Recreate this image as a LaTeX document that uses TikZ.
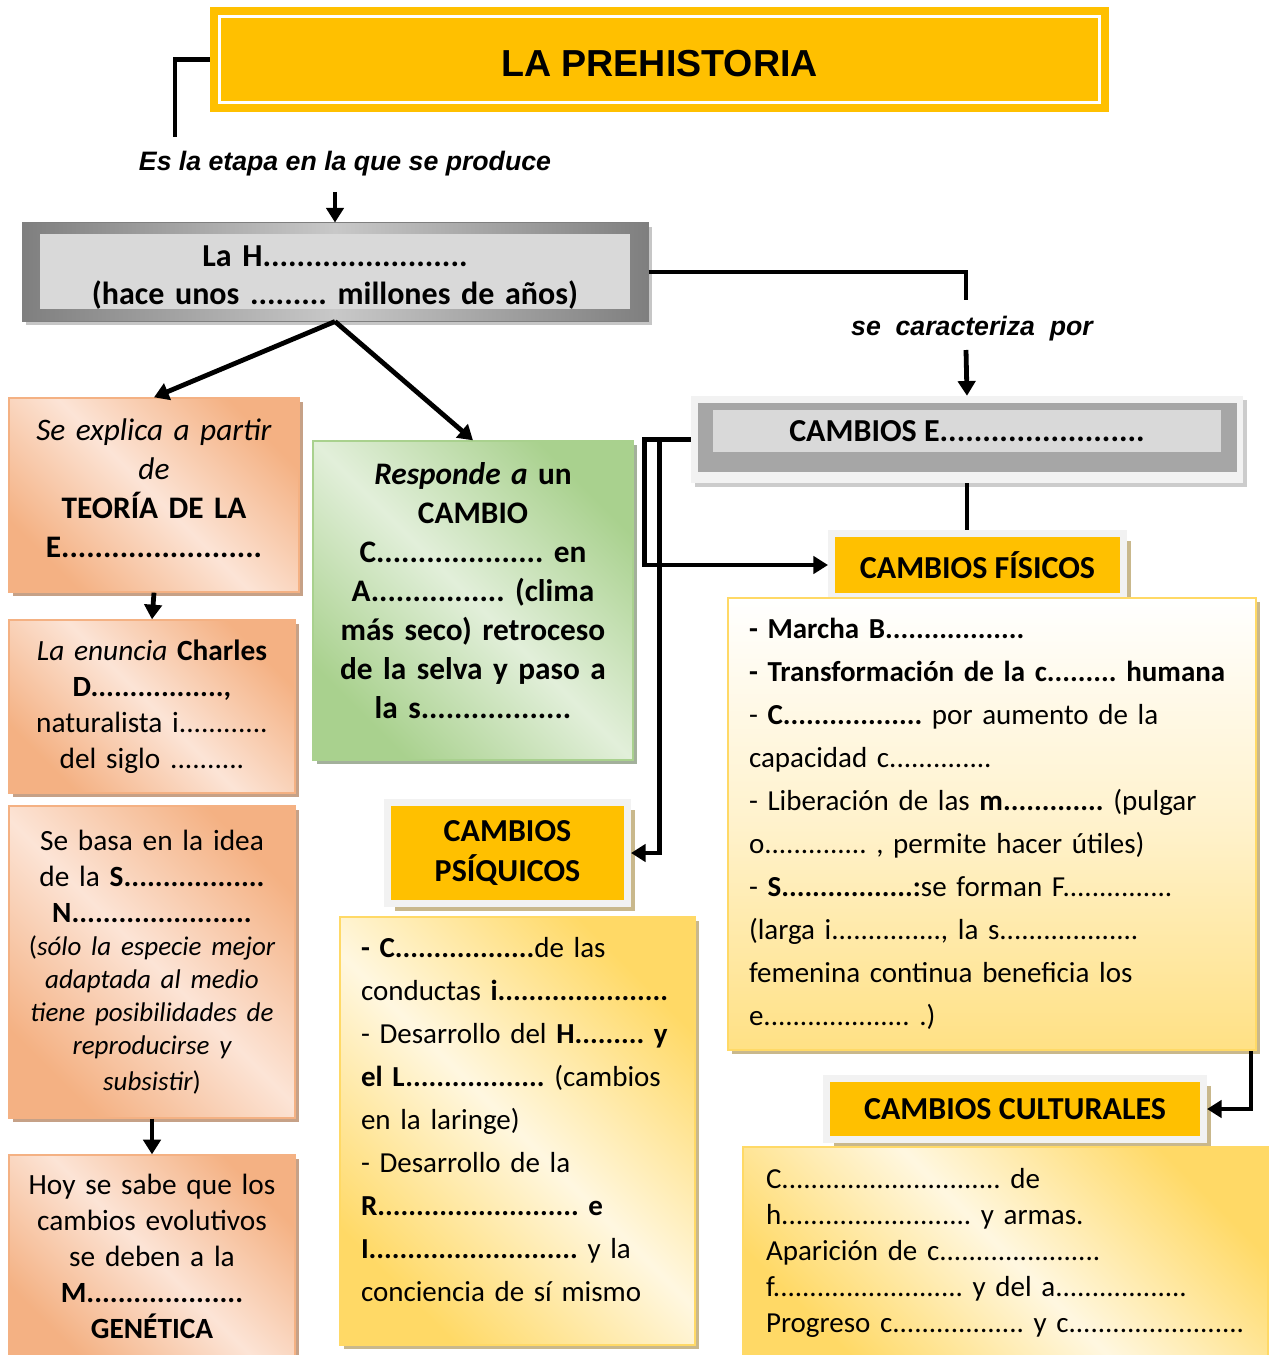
\documentclass[tikz,border=0pt]{standalone}
\usepackage{fontspec}
\setmainfont{Carlito}
\newfontfamily\arialfont{Liberation Sans}
\usetikzlibrary{arrows.meta,calc,shadows}

\definecolor{titleyellow}{HTML}{FFC000}
\definecolor{boxgray}{HTML}{D9D9D9}
\definecolor{framegray}{HTML}{F2F2F2}
\definecolor{midgray}{HTML}{A6A6A6}
\definecolor{edgegray}{HTML}{7F7F7F}
\definecolor{lightedge}{HTML}{C8C8C8}
\definecolor{salmondark}{HTML}{F4B183}
\definecolor{salmonlight}{HTML}{FCE4D6}
\definecolor{salmonshadow}{HTML}{C6A187}
\definecolor{greendark}{HTML}{A9D18E}
\definecolor{greenlight}{HTML}{E2EFDA}
\definecolor{greenshadow}{HTML}{A3B09B}
\definecolor{creamdark}{HTML}{FFD966}
\definecolor{creamlight}{HTML}{FFF2CC}
\definecolor{tanshadow}{HTML}{C9B88C}

\frenchspacing
\newcommand{\jline}[1]{\makebox[364.5pt][s]{#1}}

\begin{document}
\begin{tikzpicture}[x=0.75pt,y=-0.75pt,
  conn/.style={line width=3.6pt},
  arr/.style={conn,-{Triangle[length=11pt,width=13pt]}},
  salmonbox/.style={draw=salmondark, line width=1pt, top color=salmondark, bottom color=salmondark, middle color=salmonlight, shading angle=-45, inner sep=0pt, align=center, drop shadow={shadow xshift=3pt, shadow yshift=-3pt, fill=salmonshadow, opacity=1}},
  greenbox/.style={draw=greendark, line width=1pt, top color=greendark, bottom color=greendark, middle color=greenlight, shading angle=-45, inner sep=0pt, drop shadow={shadow xshift=3pt, shadow yshift=-3pt, fill=greenshadow, opacity=1}},
  creambox/.style={draw=creamdark, line width=1.5pt, top color=creamdark, bottom color=creamdark, middle color=creamlight!60!white, shading angle=-45, inner ysep=0pt, align=left, drop shadow={shadow xshift=3pt, shadow yshift=-3pt, fill=tanshadow, opacity=1}},
  header/.style={fill=titleyellow, draw=framegray, line width=5.25pt, inner sep=0pt, align=center, font=\fontsize{24}{30}\selectfont\bfseries, drop shadow={shadow xshift=5.5pt, shadow yshift=-5.5pt, fill=tanshadow, opacity=1}},
  linktext/.style={font=\arialfont\bfseries\itshape\fontsize{20}{24}\selectfont}]
\useasboundingbox (0,0) rectangle (1268,1355);

%Title
\node[fill=titleyellow, minimum width=674.25pt, minimum height=78.75pt, inner sep=0pt, text height=25.5pt, font=\arialfont\bfseries\fontsize{28.2}{33}\selectfont] (title) at (659.5,59.5) {LA PREHISTORIA};
\draw[white, line width=2.25pt] ($(title.north west)+(10,10)$) rectangle ($(title.south east)+(-10,-10)$);

\coordinate (etapaTop) at (175,137);
\draw[conn] (title.west) -| (etapaTop);
\node[linktext] (etapa) at (345,164) {Es la etapa en la que se produce};

%La H...
\node[draw=edgegray, line width=0.75pt, left color=edgegray, right color=edgegray, middle color=lightedge, minimum width=469.5pt, minimum height=73.5pt, inner sep=0pt, drop shadow={shadow xshift=3pt, shadow yshift=-3pt, fill=gray!45, opacity=1}, path picture={\fill[boxgray] ([xshift=13.5pt,yshift=-8.25pt]path picture bounding box.north west) rectangle ([xshift=-13.5pt,yshift=9pt]path picture bounding box.south east);}] (hbox) at (335,272) {};
\node[text width=440pt, align=center, inner sep=0pt, font=\fontsize{24}{28.5}\selectfont\bfseries] (hboxText) at (335,278) {La H........................\\(hace unos ......... millones de años)};
\draw[arr] (335,192) -- (hbox.north);

%se caracteriza por
\draw[conn] (hbox.east) -| (966,300);
\node[linktext] (carac) at (972,329) {se\ \ caracteriza\ \ por};

%Cambios E...
\node[fill=framegray, minimum width=414pt, minimum height=65.25pt, inner sep=0pt, drop shadow={shadow xshift=3pt, shadow yshift=-3pt, fill=gray!40, opacity=1}, path picture={\fill[midgray] ([xshift=5.25pt,yshift=-5.25pt]path picture bounding box.north west) rectangle ([xshift=-4.5pt,yshift=8.25pt]path picture bounding box.south east);}] (cambiosEframe) at (967,439.5) {};
\node[fill=boxgray, minimum width=381pt, minimum height=31.5pt, inner sep=0pt, font=\fontsize{24}{29.25}\selectfont\bfseries] (cambiosE) at (967,431) {CAMBIOS E........................};
\draw[arr] (966,350) -- (cambiosEframe.north);

%Left column
\node[salmonbox, minimum width=217.5pt, minimum height=145.5pt] (lb1) at (154,495) {};
\node[text width=202.5pt, align=center, inner sep=0pt, font=\fontsize{23.5}{29.25}\selectfont] (lb1Text) at (154,488) {\textit{Se explica a partir}\\\textit{de}\\\textbf{TEORÍA DE LA}\\\textbf{E........................}};
\node[salmonbox, minimum width=214.5pt, minimum height=129.75pt, text width=202.5pt, font=\fontsize{22}{27}\selectfont] (lb2) at (152,706.5) {\textit{La enuncia} \textbf{Charles}\\\textbf{D.................,}\\naturalista i............\\del siglo ..........};
\node[salmonbox, minimum width=214.5pt, minimum height=234pt, text width=204pt, font=\fontsize{22}{27}\selectfont] (lb3) at (152,962) {Se basa en la idea\\de la \textbf{S..................}\\\textbf{N.......................}\\{\fontsize{20.25}{24.75}\selectfont (\itshape sólo la especie mejor\\adaptada al medio\\tiene posibilidades de\\reproducirse y\\subsistir\upshape)}};
\node[salmonbox, minimum width=214.5pt, minimum height=152.25pt, text width=202.5pt, font=\fontsize{22}{27}\selectfont] (lb4) at (152,1256.5) {Hoy se sabe que los\\cambios evolutivos\\se deben a la\\\textbf{M....................}\\\textbf{GENÉTICA}};
\draw[arr] (hbox.south) -- (lb1.north);
\draw[arr] (lb1.south) -- (lb2.north);
\draw[arr] (lb3.south) -- (lb4.north);

%Green box
\node[greenbox, minimum width=240pt, minimum height=239.25pt] (green) at (473,600.5) {};
\node[text width=225pt, align=center, inner sep=0pt, font=\fontsize{23.5}{29.25}\selectfont\bfseries] (greenText) at (473,590.5) {\textit{Responde a} un\\CAMBIO\\C.................... en\\A................ (clima\\más seco) retroceso\\de la selva y paso a\\la s..................};
\draw[arr] (hbox.south) -- (green.north);

%Headers
\node[header, minimum width=219pt, minimum height=47.25pt] (fisicos) at (977.5,565) {CAMBIOS FÍSICOS};
\node[header, minimum width=180pt, minimum height=75.75pt] (psiquicos) at (507.5,853) {CAMBIOS\\PSÍQUICOS};
\node[header, minimum width=282.75pt, minimum height=45.75pt] (culturales) at (1015,1109) {CAMBIOS CULTURALES};
\draw[conn] (cambiosEframe.south) -- (cambiosEframe.south |- fisicos.north);
\draw[arr] (cambiosEframe.west) -- ++(-46,0) |- (fisicos.west);
\draw[arr] (cambiosEframe.west) ++(-31,0) |- (psiquicos.east);

%Fisicos text
\node[creambox, top color=white, bottom color=creamdark!80!white, middle color=creamlight, shading angle=0, minimum width=396pt, minimum height=339pt, inner xsep=15.75pt, text width=364.5pt, font=\fontsize{21.75}{32.25}\selectfont] (fisText) at (992,824) {\textbf{- Marcha B..................}\\
\textbf{- Transformación de la c......... humana}\\
\jline{- \textbf{C..................} por aumento de la}\\
capacidad c..............\\
\jline{- Liberación de las \textbf{m.............} (pulgar}\\
o.............. , permite hacer útiles)\\
\jline{- \textbf{S.................:}se forman F...............}\\
\jline{(larga i..............., la s...................}\\
\jline{femenina continua beneficia los}\\
e.................... .)};
\draw[arr] (fisText.south east) ++(-6,0) |- (culturales.east);

%Psiquicos text
\node[creambox, minimum width=266.25pt, minimum height=321pt] (psiText) at (517.5,1131) {};
\node[text width=240pt, align=left, inner sep=0pt, font=\fontsize{21.75}{32.25}\selectfont] (psiTextBody) at (521,1120) {\textbf{- C..................}de las\\
conductas \textbf{i......................}\\
- Desarrollo del \textbf{H......... y}\\
\textbf{el L..................} (cambios\\
en la laringe)\\
- Desarrollo de la\\
\textbf{R.......................... e}\\
\textbf{I...........................} y la\\
conciencia de sí mismo};

%Culturales text
\node[creambox, minimum width=393.75pt, minimum height=158.25pt, inner xsep=17.25pt, text width=359.25pt, font=\fontsize{21.75}{27}\selectfont] (culText) at (1005.5,1252.5) {C.............................. de\\
h.......................... y armas.\\
Aparición de c......................\\
f.......................... y del a..................\\
Progreso c.................. y c........................};
\end{tikzpicture}
\end{document}
